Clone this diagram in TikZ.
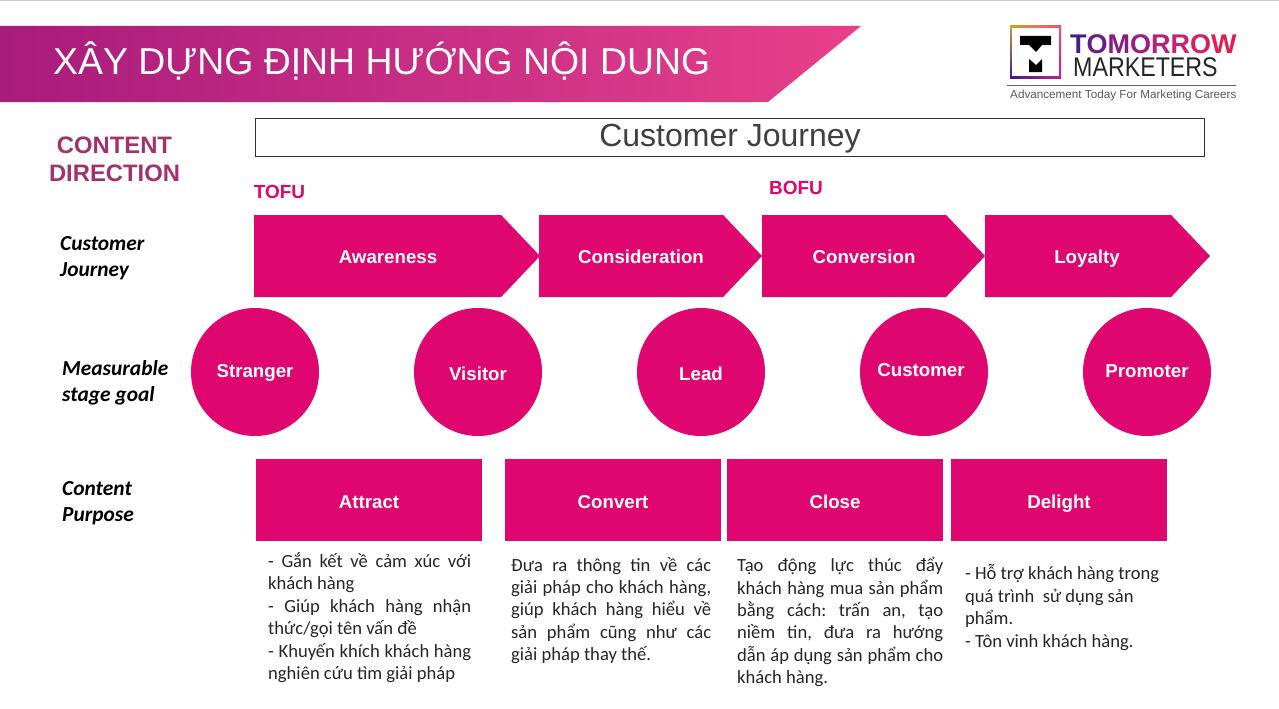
\documentclass[tikz,border=0pt]{standalone}
\usepackage{fontspec}
\setmainfont{Liberation Sans}
\newfontfamily\bodyfont{Carlito}
\usetikzlibrary{shapes.symbols,shadings}
\definecolor{rosefill}{HTML}{E0066F}
\definecolor{bannerleft}{HTML}{A81C7C}
\definecolor{bannerright}{HTML}{E8408B}
\definecolor{headcolor}{HTML}{A3306F}
\definecolor{titlegray}{HTML}{404040}
\newcommand{\tomorrowword}{\textcolor[HTML]{4A1A8C}{T}\textcolor[HTML]{6A1A8C}{O}\textcolor[HTML]{8A1A88}{M}\textcolor[HTML]{A01C84}{O}\textcolor[HTML]{B81E7C}{R}\textcolor[HTML]{CC2072}{R}\textcolor[HTML]{D82060}{O}\textcolor[HTML]{E0204C}{W}}
\begin{document}
\frenchspacing
\begin{tikzpicture}[x=1pt,y=-1pt]
      \tikzset{stagearrow/.style = {shape=signal,signal to=east,signal pointer angle=93,fill=rosefill,inner sep=0pt,outer sep=0pt,minimum height=82pt,anchor=west}}
      \tikzset{goal/.style = {shape=circle,fill=rosefill,inner sep=0pt,minimum size=128pt}}
      \tikzset{purpose/.style = {shape=rectangle,fill=rosefill,inner sep=0pt,minimum width=216pt,minimum height=82pt}}
      \tikzset{whitelabel/.style = {text=white,inner sep=0pt,yshift=-1pt,text height=13pt,text depth=0pt,font=\fontsize{18.7}{20}\selectfont\bfseries}}
      \tikzset{rowlabel/.style = {anchor=west,inner sep=0pt,align=left,font=\bodyfont\fontsize{21.4}{25.8}\selectfont\bfseries\itshape}}
      \tikzset{bodytext/.style = {anchor=north west,inner sep=0pt,align=justify,font=\bodyfont\fontsize{18.6}{22.4}\selectfont,text=black!85}}
      \useasboundingbox (0,0) rectangle (1279,709);
      \fill[white] (0,0) rectangle (1279,709);
      \fill[black!20] (0,0) rectangle (1279,1.5);

      % banner
      \shade[left color=bannerleft,middle color=bannerleft!55!bannerright,right color=bannerright] (0,26) -- (861,26) -- (768,102) -- (0,102) -- cycle;
      \node[anchor=west,inner sep=0pt,text=white,font=\fontsize{37.4}{40}\selectfont] (title) at (53,61) {XÂY DỰNG ĐỊNH HƯỚNG NỘI DUNG};

      % logo
      \shade[upper left={rgb,255:red,208;green,160;blue,48},upper right={rgb,255:red,240;green,80;blue,122},lower left={rgb,255:red,58;green,26;blue,140},lower right={rgb,255:red,192;green,32;blue,144}] (1010,26) rectangle (1061,78);
      \fill[white] (1012,28) rectangle (1059,76);
      \fill[black] (1020,36) -- (1051,36) -- (1051,45) -- (1042,45) -- (1036,52) -- (1029,45) -- (1020,45) -- cycle;
      \fill[black] (1029,59) -- (1036,65) -- (1042,59) -- (1042,72) -- (1029,72) -- cycle;
      \node[anchor=base west,inner sep=0pt,text depth=0pt,font=\fontsize{27}{28}\selectfont\bfseries] (tomorrow) at (1070,53) {\tomorrowword};
      \node[anchor=base west,inner sep=0pt,text height=19pt,text depth=0pt,text=black!85,font=\fontsize{27}{28}\selectfont\addfontfeature{FakeStretch=0.86}] (marketers) at (1073,76) {MARKETERS};
      \fill[black!60] (1007,84.5) rectangle (1236,86);
      \node[anchor=west,inner sep=0pt,text=black!65,font=\fontsize{11.7}{14}\selectfont] (tagline) at (1010,95.5) {Advancement Today For Marketing Careers};

      % headings
      \node[text=headcolor,font=\fontsize{23.8}{28}\selectfont\bfseries,align=center] (direction) at (114.5,159) {CONTENT\\DIRECTION};
      \node[draw=black!80,line width=1pt,inner sep=0pt,minimum width=949pt,minimum height=38pt] (journey) at (729.5,137) {};
      \node[text=titlegray,font=\fontsize{32}{34}\selectfont] (journeytext) at (730,139) {Customer Journey};
      \node[text=rosefill,font=\fontsize{19}{21}\selectfont\bfseries] (tofu) at (279.5,191.5) {TOFU};
      \node[text=rosefill,font=\fontsize{19}{21}\selectfont\bfseries] (bofu) at (796,187.5) {BOFU};

      % row labels
      \node[rowlabel] (rowjourney) at (60,258) {Customer\\Journey};
      \node[rowlabel] (rowgoal) at (62,383) {Measurable\\stage goal};
      \node[rowlabel] (rowpurpose) at (62,503) {Content\\Purpose};

      % stages
      \node[stagearrow,minimum width=286pt] (awareness) at (254,256) {};
      \node[stagearrow,minimum width=223pt] (consideration) at (539,256) {};
      \node[stagearrow,minimum width=223pt] (conversion) at (762,256) {};
      \node[stagearrow,minimum width=225pt] (loyalty) at (985,256) {};
      \node[whitelabel] (awarenesstext) at (388,256) {Awareness};
      \node[whitelabel] (considerationtext) at (641,256) {Consideration};
      \node[whitelabel] (conversiontext) at (864,256) {Conversion};
      \node[whitelabel] (loyaltytext) at (1087,256) {Loyalty};

      % goals
      \node[goal] (stranger) at (255,372) {};
      \node[goal] (visitor) at (478,372) {};
      \node[goal] (lead) at (701,372) {};
      \node[goal] (customer) at (924,372) {};
      \node[goal] (promoter) at (1147,372) {};
      \node[whitelabel] (strangertext) at (255,370) {Stranger};
      \node[whitelabel] (visitortext) at (478,373) {Visitor};
      \node[whitelabel] (leadtext) at (701,373) {Lead};
      \node[whitelabel] (customertext) at (921,369) {Customer};
      \node[whitelabel] (promotertext) at (1147,370) {Promoter};

      % purposes
      \node[purpose,minimum width=226pt] (attract) at (369,500) {};
      \node[purpose] (convert) at (613,500) {};
      \node[purpose] (close) at (835,500) {};
      \node[purpose] (delight) at (1059,500) {};
      \node[whitelabel] (attracttext) at (369,501) {Attract};
      \node[whitelabel] (converttext) at (613,501) {Convert};
      \node[whitelabel] (closetext) at (835,501) {Close};
      \node[whitelabel] (delighttext) at (1059,501) {Delight};

      % descriptions
      \node[bodytext,text width=203pt] (attractbody) at (268,552.5) {- Gắn kết về cảm xúc với\linebreak khách hàng\\
        - Giúp khách hàng nhận\linebreak thức/gọi tên vấn đề\\
        - Khuyến khích khách hàng\linebreak nghiên cứu tìm giải pháp};
      \node[bodytext,text width=200pt] (convertbody) at (511,557) {Đưa ra thông tin về các\linebreak giải pháp cho khách hàng,\linebreak giúp khách hàng hiểu về\linebreak sản phẩm cũng như các\linebreak giải pháp thay thế.};
      \node[bodytext,text width=206pt] (closebody) at (737,557) {Tạo động lực thúc đẩy\linebreak khách hàng mua sản phẩm\linebreak bằng cách: trấn an, tạo\linebreak niềm tin, đưa ra hướng\linebreak dẫn áp dụng sản phẩm cho\linebreak khách hàng.};
      \node[bodytext,align=left] (delightbody) at (965,564.5) {- Hỗ trợ khách hàng trong\\quá trình\ \ sử dụng sản\\phẩm.\\- Tôn vinh khách hàng.};
    \end{tikzpicture}
\end{document}
